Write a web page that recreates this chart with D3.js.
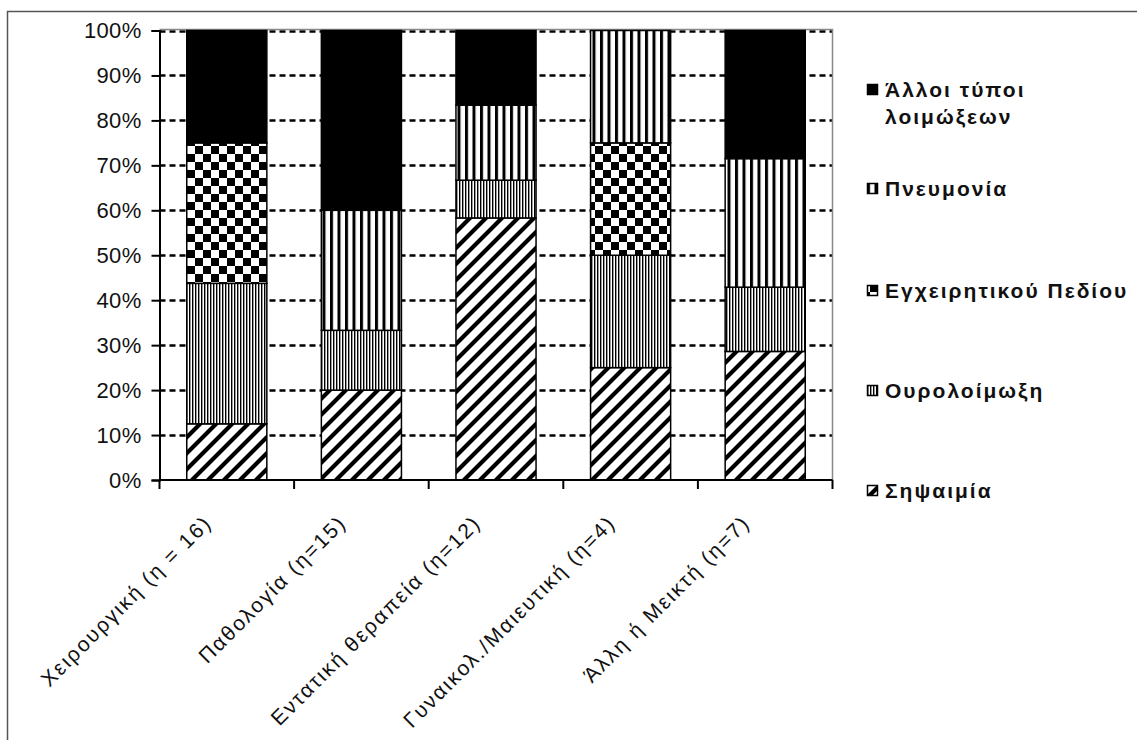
<!DOCTYPE html>
<html>
<head>
<meta charset="utf-8">
<script src="https://cdn.jsdelivr.net/npm/d3@7"></script>
<style>
  html, body { margin: 0; padding: 0; background: #fff; }
  svg { display: block; }
  text { font-family: "Liberation Sans", Arial, sans-serif; fill: #111; }
</style>
</head>
<body>
<svg id="chart" width="1137" height="740"></svg>
<script>
// Wards (categories along the x axis)
const categories = [
  "Χειρουργική (η = 16)",
  "Παθολογία (η=15)",
  "Εντατική θεραπεία (η=12)",
  "Γυναικολ./Μαιευτική (η=4)",
  "Άλλη ή Μεικτή (η=7)"
];

// Share of each infection type per ward, in percent
const sepsis    = [12.5, 20.0, 58.3, 25.0, 28.6];
const urinary   = [31.25, 13.3, 8.4, 25.0, 14.3];
const surgical  = [31.25, 0, 0, 25.0, 0];
const pneumonia = [0, 26.7, 16.7, 25.0, 28.6];
const other     = [25.0, 40.0, 16.6, 0, 28.5];

const seriesKeys   = ["sepsis", "urinary", "surgical", "pneumonia", "other"];
const seriesNames  = ["Σηψαιμία", "Ουρολοίμωξη", "Εγχειρητικού Πεδίου", "Πνευμονία", "Άλλοι τύποι λοιμώξεων"];
const yTickValues  = [0, 10, 20, 30, 40, 50, 60, 70, 80, 90, 100];

const table = categories.map((c, i) => ({
  category: c,
  sepsis: sepsis[i], urinary: urinary[i], surgical: surgical[i],
  pneumonia: pneumonia[i], other: other[i]
}));

const svg = d3.select("#chart");
const plot = { left: 159.5, right: 832.5, top: 30.5, bottom: 480 };

// ---- fill patterns -------------------------------------------------------
const defs = svg.append("defs");
const fills = {};

// wide upward diagonal
{
  const p = defs.append("pattern").attr("id", "p-sepsis")
    .attr("patternUnits", "userSpaceOnUse").attr("width", 16).attr("height", 16);
  p.append("rect").attr("width", 16).attr("height", 16).attr("fill", "#fff");
  p.append("path").attr("d", "M-4,4 L4,-4 M0,16 L16,0 M12,20 L20,12")
    .attr("stroke", "#000").attr("stroke-width", 4.2);
  fills.sepsis = "url(#p-sepsis)";
}
// narrow vertical lines
{
  const p = defs.append("pattern").attr("id", "p-urinary")
    .attr("patternUnits", "userSpaceOnUse").attr("width", 3).attr("height", 6);
  p.append("rect").attr("width", 3).attr("height", 6).attr("fill", "#fff");
  p.append("rect").attr("width", 1.4).attr("height", 6).attr("fill", "#000");
  fills.urinary = "url(#p-urinary)";
}
// large checkerboard
{
  const p = defs.append("pattern").attr("id", "p-surgical")
    .attr("patternUnits", "userSpaceOnUse").attr("width", 16).attr("height", 16)
    .attr("x", 3).attr("y", 2);
  p.append("rect").attr("width", 16).attr("height", 16).attr("fill", "#fff");
  p.append("rect").attr("width", 8).attr("height", 8).attr("fill", "#000");
  p.append("rect").attr("x", 8).attr("y", 8).attr("width", 8).attr("height", 8).attr("fill", "#000");
  fills.surgical = "url(#p-surgical)";
}
// wide vertical lines
{
  const p = defs.append("pattern").attr("id", "p-pneumonia")
    .attr("patternUnits", "userSpaceOnUse").attr("width", 7.5).attr("height", 10);
  p.append("rect").attr("width", 7.5).attr("height", 10).attr("fill", "#fff");
  p.append("rect").attr("width", 3).attr("height", 10).attr("fill", "#000");
  fills.pneumonia = "url(#p-pneumonia)";
}
fills.other = "#000";

// ---- scales --------------------------------------------------------------
const x = d3.scaleBand()
  .domain(categories)
  .range([plot.left, plot.right])
  .paddingInner(0.405)
  .paddingOuter(0.2025);

const y = d3.scaleLinear().domain([0, 100]).range([plot.bottom, plot.top]);

// ---- outer chart frame ---------------------------------------------------
svg.append("path")
  .attr("d", "M7.5,745 L7.5,11.5 L1145,11.5")
  .attr("fill", "none").attr("stroke", "#555").attr("stroke-width", 1.5);

// ---- gridlines -----------------------------------------------------------
svg.append("g")
  .selectAll("line")
  .data(yTickValues.filter(v => v > 0))
  .join("line")
  .attr("x1", plot.left).attr("x2", plot.right)
  .attr("y1", d => Math.round(y(d)) + 0.5).attr("y2", d => Math.round(y(d)) + 0.5)
  .attr("stroke", "#000").attr("stroke-width", 2.5)
  .attr("stroke-dasharray", "6,4");

// plot area top and right border
svg.append("path")
  .attr("d", `M${plot.left},${plot.top - 1} L${plot.right},${plot.top - 1} L${plot.right},${plot.bottom}`)
  .attr("fill", "none").attr("stroke", "#888").attr("stroke-width", 1.5);

// ---- stacked bars --------------------------------------------------------
const stacked = d3.stack().keys(seriesKeys)(table);

svg.append("g")
  .selectAll("g")
  .data(stacked)
  .join("g")
  .attr("fill", d => fills[d.key])
  .selectAll("rect")
  .data(d => d.filter(s => s[1] - s[0] > 0))
  .join("rect")
  .attr("x", d => x(d.data.category))
  .attr("width", x.bandwidth())
  .attr("y", d => y(d[1]))
  .attr("height", d => y(d[0]) - y(d[1]))
  .attr("stroke", "#000")
  .attr("stroke-width", 1.5);

// ---- y axis --------------------------------------------------------------
const yAxis = d3.axisLeft(y)
  .tickValues(yTickValues)
  .tickFormat(d => d + "%")
  .tickSize(8)
  .tickPadding(10);

const gy = svg.append("g")
  .attr("transform", `translate(${plot.left},0)`)
  .call(yAxis);
gy.select(".domain").attr("stroke", "#000").attr("stroke-width", 2);
gy.selectAll(".tick line").attr("stroke", "#000").attr("stroke-width", 2);
gy.selectAll(".tick text")
  .attr("font-size", 22)
  .attr("letter-spacing", 0.3)
  .attr("font-family", "'Liberation Sans', Arial, sans-serif")
  .attr("fill", "#222");

// ---- x axis (ticks between categories) -----------------------------------
const boundaries = d3.range(categories.length + 1).map(i => plot.left + i * x.step());
svg.append("line")
  .attr("x1", plot.left).attr("x2", plot.right)
  .attr("y1", plot.bottom).attr("y2", plot.bottom)
  .attr("stroke", "#000").attr("stroke-width", 2);
svg.append("g")
  .selectAll("line")
  .data(boundaries)
  .join("line")
  .attr("x1", d => d).attr("x2", d => d)
  .attr("y1", plot.bottom).attr("y2", plot.bottom + 9)
  .attr("stroke", "#000").attr("stroke-width", 2);

svg.append("g")
  .selectAll("text")
  .data(categories)
  .join("text")
  .attr("transform", d => `translate(${x(d) + x.bandwidth() / 2 - 19},${plot.bottom + 39}) rotate(-45)`)
  .attr("text-anchor", "end")
  .attr("dy", "0.35em")
  .attr("font-size", 21)
  .attr("letter-spacing", 2)
  .attr("fill", "#222")
  .text(d => d);

// ---- legend --------------------------------------------------------------
const legendItems = seriesKeys.map((k, i) => ({ key: k, name: seriesNames[i] })).reverse();
const legend = svg.append("g");
const rowY = [97, 196, 298, 398, 498];

legendItems.forEach((item, i) => {
  const g = legend.append("g").attr("transform", `translate(867,${rowY[i]})`);
  g.append("rect")
    .attr("x", 0.5).attr("y", -12.5).attr("width", 10).attr("height", 10)
    .attr("fill", fills[item.key]).attr("stroke", "#000").attr("stroke-width", 1.5);
  const words = item.name === "Άλλοι τύποι λοιμώξεων" ? ["Άλλοι τύποι", "λοιμώξεων"] : [item.name];
  const t = g.append("text")
    .attr("x", 18).attr("y", 0)
    .attr("font-size", 21)
    .attr("font-weight", "bold")
    .attr("letter-spacing", 2);
  words.forEach((w, j) => {
    t.append("tspan").attr("x", 18).attr("dy", j === 0 ? 0 : 27).text(w);
  });
});
</script>
</body>
</html>
